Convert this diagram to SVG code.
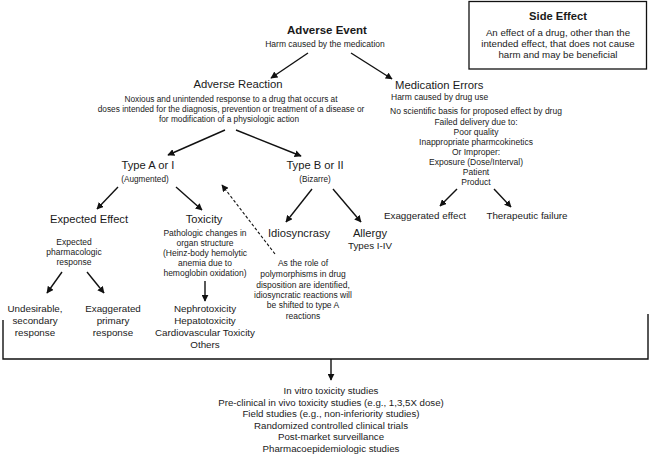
<svg xmlns="http://www.w3.org/2000/svg" width="650" height="454" viewBox="0 0 650 454">
<defs>
<marker id="ah" viewBox="0 0 10 10" refX="9" refY="5" markerWidth="7" markerHeight="7" orient="auto" markerUnits="userSpaceOnUse">
<path d="M0,0 L10,5 L0,10 z" fill="#111"/>
</marker>
<style>
text{font-family:"Liberation Sans",Arial,sans-serif;fill:#1a1a1a;text-anchor:middle}
.h1{font-size:11.5px;font-weight:bold}
.h2{font-size:11.3px}
.h3{font-size:11.2px}
.s{font-size:8.5px}
.sr{font-size:8.3px}
.sa{font-size:8.2px}
.m{font-size:9.8px}
.b{font-size:9.7px}
.se{font-size:9.7px}
.c{stroke:#111;stroke-width:1.4;fill:none;marker-end:url(#ah)}
.d{stroke:#111;stroke-width:1.1;fill:none;stroke-dasharray:3,2;marker-end:url(#ah)}
.l{stroke:#111;stroke-width:1.4;fill:none}
</style>
</defs>
<rect width="650" height="454" fill="#fff"/>
<g id="side-effect">
<rect x="469" y="1.5" width="177.5" height="67.5" fill="#fff" stroke="#111" stroke-width="1.3"/>
<text class="h3" x="558" y="19.5" font-weight="bold">Side Effect</text>
<text class="se" x="558" y="36">An effect of a drug, other than the</text>
<text class="se" x="558" y="47">intended effect, that does not cause</text>
<text class="se" x="558" y="58">harm and may be beneficial</text>
</g>
<g id="adverse-event">
<text class="h1" x="327" y="33.5">Adverse Event</text>
<text class="s" x="325" y="46.5">Harm caused by the medication</text>
</g>
<g id="adverse-reaction">
<text class="h2" x="238" y="88">Adverse Reaction</text>
<text class="sr" x="231" y="101.5">Noxious and unintended response to a drug that occurs at</text>
<text class="sr" x="231" y="111.5">doses intended for the diagnosis, prevention or treatment of a disease or</text>
<text class="sr" x="229" y="121.5">for modification of a physiologic action</text>
</g>
<g id="medication-errors">
<text class="h2" x="395" y="89" style="text-anchor:start">Medication Errors</text>
<text class="s" x="391" y="100" style="text-anchor:start">Harm caused by drug use</text>
<text class="s" x="476" y="114">No scientific basis for proposed effect by drug</text>
<text class="s" x="476" y="124.5">Failed delivery due to:</text>
<text class="s" x="476" y="134.5">Poor quality</text>
<text class="s" x="476" y="144.5">Inappropriate pharmcokinetics</text>
<text class="s" x="476" y="154.5">Or Improper:</text>
<text class="s" x="476" y="164.5">Exposure (Dose/Interval)</text>
<text class="s" x="476" y="174.5">Patient</text>
<text class="s" x="476" y="184.5">Product</text>
</g>
<g id="exaggerated-effect"><text class="m" x="425" y="219">Exaggerated effect</text></g>
<g id="therapeutic-failure"><text class="m" x="527" y="219">Therapeutic failure</text></g>
<g id="type-a">
<text class="h3" x="148" y="169">Type A or I</text>
<text class="sa" x="145" y="182">(Augmented)</text>
</g>
<g id="type-b">
<text class="h3" x="315" y="169">Type B or II</text>
<text class="sa" x="315" y="182">(Bizarre)</text>
</g>
<g id="expected-effect">
<text class="h3" x="89" y="223">Expected Effect</text>
<text class="s" x="74" y="245">Expected</text>
<text class="s" x="74" y="255">pharmacologic</text>
<text class="s" x="74" y="265">response</text>
</g>
<g id="undesirable">
<text class="m" x="35" y="312">Undesirable,</text>
<text class="m" x="35" y="324">secondary</text>
<text class="m" x="35" y="336">response</text>
</g>
<g id="exaggerated-primary">
<text class="m" x="113" y="312">Exaggerated</text>
<text class="m" x="113" y="324">primary</text>
<text class="m" x="113" y="336">response</text>
</g>
<g id="toxicity">
<text class="h3" x="204" y="223">Toxicity</text>
<text class="s" x="205" y="236">Pathologic changes in</text>
<text class="s" x="205" y="246">organ structure</text>
<text class="s" x="205" y="256">(Heinz-body hemolytic</text>
<text class="s" x="205" y="266">anemia due to</text>
<text class="s" x="205" y="276">hemoglobin oxidation)</text>
</g>
<g id="toxicities">
<text class="m" x="205" y="312">Nephrotoxicity</text>
<text class="m" x="205" y="324">Hepatotoxicity</text>
<text class="m" x="205" y="336">Cardiovascular Toxicity</text>
<text class="m" x="205" y="347.5">Others</text>
</g>
<g id="idiosyncrasy"><text class="h3" x="299" y="237">Idiosyncrasy</text></g>
<g id="allergy">
<text class="h3" x="370" y="237">Allergy</text>
<text class="m" x="370" y="249">Types I-IV</text>
</g>
<g id="note">
<text class="s" x="303" y="266">As the role of</text>
<text class="s" x="303" y="277">polymorphisms in drug</text>
<text class="s" x="303" y="287.5">disposition are identified,</text>
<text class="s" x="303" y="298">idiosyncratic reactions will</text>
<text class="s" x="303" y="308">be shifted to type A</text>
<text class="s" x="303" y="318.5">reactions</text>
</g>
<g id="studies">
<text class="b" x="331" y="394">In vitro toxicity studies</text>
<text class="b" x="331" y="405.5">Pre-clinical in vivo toxicity studies (e.g., 1,3,5X dose)</text>
<text class="b" x="331" y="417">Field studies (e.g., non-inferiority studies)</text>
<text class="b" x="331" y="428.5">Randomized controlled clinical trials</text>
<text class="b" x="331" y="440">Post-market surveillance</text>
<text class="b" x="331" y="451.5">Pharmacoepidemiologic studies</text>
</g>
<g id="connectors">
<line class="c" x1="308" y1="53" x2="271" y2="78"/>
<line class="c" x1="351" y1="53" x2="392" y2="79"/>
<line class="c" x1="225" y1="130" x2="168" y2="155"/>
<line class="c" x1="236" y1="130" x2="301" y2="156"/>
<line class="c" x1="118" y1="187" x2="97" y2="209"/>
<line class="c" x1="176" y1="187" x2="202" y2="210"/>
<line class="c" x1="312" y1="189" x2="286" y2="222"/>
<line class="c" x1="333" y1="189" x2="361" y2="222"/>
<line class="c" x1="457" y1="189" x2="440" y2="206"/>
<line class="c" x1="494" y1="189" x2="511" y2="207"/>
<line class="c" x1="62" y1="272" x2="47" y2="293"/>
<line class="c" x1="87" y1="272" x2="104" y2="293"/>
<line class="c" x1="205" y1="281" x2="205" y2="301"/>
<line class="d" x1="275" y1="254" x2="222" y2="185"/>
<path class="l" d="M3,320 V359 H648 V314"/>
<line class="c" x1="331" y1="359" x2="331" y2="380"/>
</g>
</svg>
